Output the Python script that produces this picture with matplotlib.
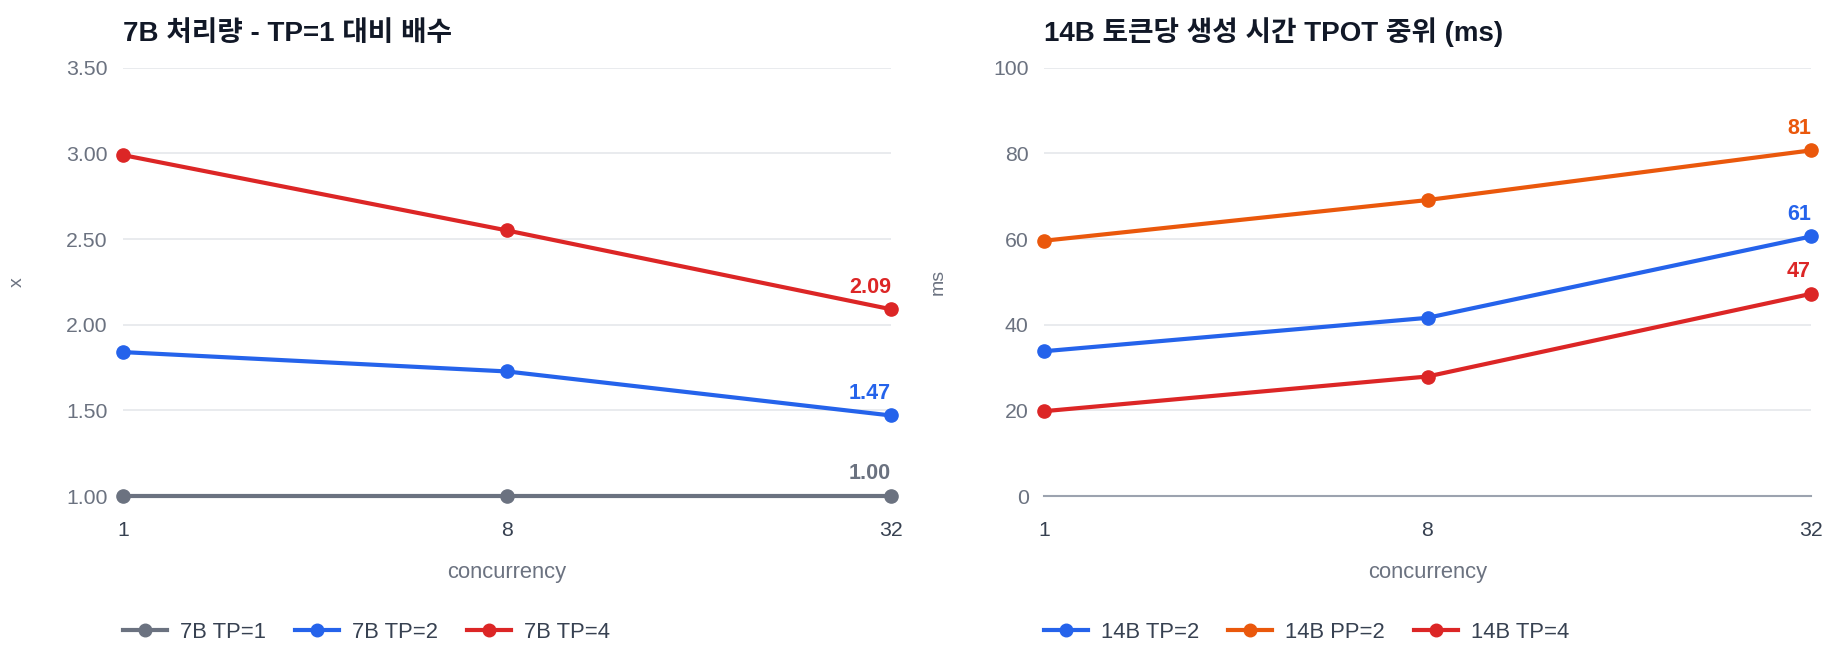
import matplotlib
matplotlib.use('Agg')
import matplotlib.pyplot as plt

plt.rcParams['font.family'] = ['Liberation Sans', 'Noto Sans CJK KR', 'DejaVu Sans']

# data
concurrency = ['1', '8', '32']

left_title = '7B 처리량 - TP=1 대비 배수'
left_names = ['7B TP=1', '7B TP=2', '7B TP=4']
left_values = [
    [1.00, 1.00, 1.00],
    [1.84, 1.727, 1.47],
    [2.99, 2.55, 2.09],
]
left_colors = ['#6b7280', '#2563eb', '#dc2626']
left_ticks = [1.0, 1.5, 2.0, 2.5, 3.0, 3.5]

right_title = '14B 토큰당 생성 시간 TPOT 중위 (ms)'
right_names = ['14B TP=2', '14B PP=2', '14B TP=4']
right_values = [
    [33.8, 41.6, 60.6],
    [59.6, 69.1, 80.7],
    [19.8, 27.9, 47.2],
]
right_colors = ['#2563eb', '#ea580c', '#dc2626']
right_ticks = [0, 20, 40, 60, 80, 100]

W, H = 1840, 668
fig = plt.figure(figsize=(W / 100, H / 100), dpi=100)

def fx(px):
    return px / W

def fy(py):
    return 1 - py / H

top, bottom = 67.7, 496


def draw(x0, x1, title, names, values, colors, ticks, fmt, ylabel):
    ax = fig.add_axes([fx(x0), fy(bottom), fx(x1 - x0), fy(top) - fy(bottom)])
    xs = list(range(len(concurrency)))
    ax.set_xlim(0, len(xs) - 1)
    ax.set_ylim(ticks[0], ticks[-1])
    ax.set_yticks(ticks)
    ax.set_yticklabels([fmt(t) for t in ticks])
    ax.set_xticks(xs)
    ax.set_xticklabels(concurrency)
    ax.grid(axis='y', color='#e5e7eb', linewidth=1.2)
    ax.set_axisbelow(True)
    for s in ['top', 'right', 'left']:
        ax.spines[s].set_visible(False)
    ax.spines['bottom'].set_color('#9ca3af')
    ax.spines['bottom'].set_linewidth(1.5)
    ax.tick_params(axis='both', length=0)
    ax.tick_params(axis='y', labelsize=15.3, labelcolor='#6b7280', pad=11)
    ax.tick_params(axis='x', labelsize=15.3, labelcolor='#374151', pad=18)

    for name, vals, c in zip(names, values, colors):
        ax.plot(xs, vals, color=c, linewidth=3.0, marker='o', markersize=9.5,
                label=name, clip_on=False, zorder=3)
        ax.annotate(fmt(vals[-1]), (xs[-1], vals[-1]), xytext=(0, 12),
                    textcoords='offset points', ha='right', va='baseline',
                    color=c, fontsize=15.5, fontweight='bold',
                    annotation_clip=False)

    ax.set_xlabel('concurrency', fontsize=15.8, color='#6b7280', labelpad=16)
    ax.set_ylabel(ylabel, fontsize=14, color='#6b7280')
    ax.yaxis.set_label_coords(-97 / (x1 - x0), 0.5)

    fig.text(fx(x0), fy(40.7), title, fontsize=20, fontweight='bold',
             color='#111827', ha='left', va='baseline')

    ax.legend(loc='center left', bbox_to_anchor=(fx(x0), fy(632)),
              bbox_transform=fig.transFigure, ncol=3, frameon=False,
              fontsize=15.8, handlelength=2.0, handletextpad=0.6,
              columnspacing=1.32, borderpad=0, borderaxespad=0,
              labelcolor='#374151', markerscale=0.95)
    return ax


draw(123, 891, left_title, left_names, left_values, left_colors, left_ticks,
     lambda v: f'{v:.2f}', 'x')
draw(1044, 1811, right_title, right_names, right_values, right_colors, right_ticks,
     lambda v: f'{v:.0f}', 'ms')

fig.savefig('out.png', dpi=100)
